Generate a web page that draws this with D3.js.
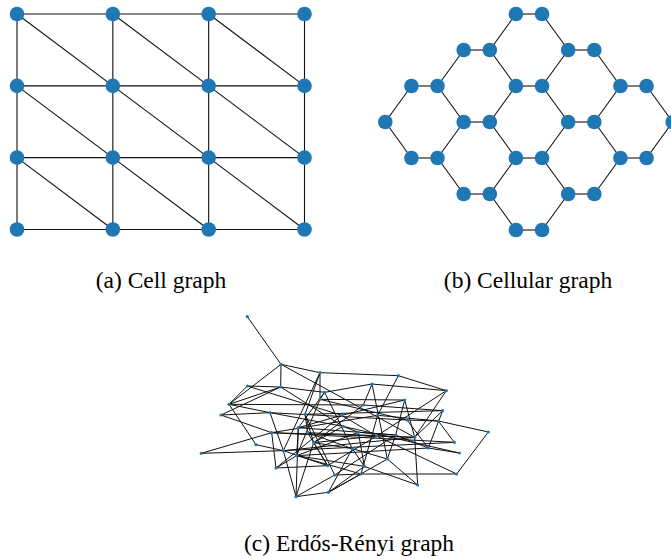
<!DOCTYPE html>
<html>
<head>
<meta charset="utf-8">
<script src="https://cdn.jsdelivr.net/npm/d3@7"></script>
<style>
  html, body { margin: 0; padding: 0; background: #fff; }
  svg { display: block; }
  .cap { font-family: "Liberation Serif", "Times New Roman", serif; font-size: 23.5px; fill: #000; }
</style>
</head>
<body>
<svg id="fig" width="671" height="559"></svg>
<script>
// ---------- (a) Cell graph: 4x4 grid with one diagonal per cell ----------
const cellNodes = [
  [0,0],[1,0],[2,0],[3,0],
  [0,1],[1,1],[2,1],[3,1],
  [0,2],[1,2],[2,2],[3,2],
  [0,3],[1,3],[2,3],[3,3]
];
const cellEdges = [
  [0,1],[1,2],[2,3],[4,5],[5,6],[6,7],[8,9],[9,10],[10,11],[12,13],[13,14],[14,15],
  [0,4],[4,8],[8,12],[1,5],[5,9],[9,13],[2,6],[6,10],[10,14],[3,7],[7,11],[11,15],
  [0,5],[1,6],[2,7],[4,9],[5,10],[6,11],[8,13],[9,14],[10,15]
];

// ---------- (b) Cellular graph: hexagonal lattice (column index, row index) ----------
const hexNodes = [
  [5,0],[6,0],
  [3,1],[4,1],[7,1],[8,1],
  [1,2],[2,2],[5,2],[6,2],[9,2],[10,2],
  [0,3],[3,3],[4,3],[7,3],[8,3],[11,3],
  [1,4],[2,4],[5,4],[6,4],[9,4],[10,4],
  [3,5],[4,5],[7,5],[8,5],
  [5,6],[6,6]
];
const hexEdges = [
  [0,1],[2,3],[4,5],[6,7],[8,9],[10,11],[13,14],[15,16],
  [18,19],[20,21],[22,23],[24,25],[26,27],[28,29],
  [0,3],[1,4],
  [2,7],[3,8],[4,9],[5,10],
  [6,12],[7,13],[8,14],[9,15],[10,16],[11,17],
  [12,18],[13,19],[14,20],[15,21],[16,22],[17,23],
  [19,24],[20,25],[21,26],[22,27],
  [25,28],[26,29]
];

// ---------- (c) Erdős-Rényi graph: layout positions and edge list ----------
const erNodes = [
  [172,20],[273,163],[390,188],[625,197],[172,228],[272,231],[546,222],[769,242],
  [404,247],[390,268],[644,270],[520,285],[117,283],[93,315],[240,308],[345,313],
  [455,316],[563,316],[758,302],[745,333],[651,330],[325,353],[459,349],[353,368],
  [245,368],[505,367],[560,378],[617,375],[674,382],[895,366],[198,404],[371,398],
  [793,397],[34,430],[280,422],[320,437],[487,416],[715,414],[808,429],[592,447],
  [258,474],[413,467],[523,469],[434,495],[513,492],[800,492],[683,525],[318,560],
  [415,547]
];
const erEdges = [
  [0,1],
  [1,2],[1,5],[1,12],[1,28],
  [2,3],[2,15],[2,34],[2,9],
  [3,7],[3,17],
  [4,5],[4,12],[4,16],
  [5,8],[5,12],[5,22],
  [6,7],[6,8],[6,11],[6,39],
  [7,28],[7,26],
  [8,21],[8,36],[8,9],
  [9,10],[9,35],[9,20],
  [10,28],[10,27],[10,16],
  [11,12],[11,18],[11,31],
  [12,30],[12,14],
  [13,14],[13,24],[13,5],
  [14,20],[14,22],[14,34],
  [15,18],[15,23],[15,43],[15,31],
  [16,26],[16,40],[16,21],
  [17,19],[17,24],[17,44],
  [18,28],[18,37],
  [19,32],[19,29],[19,20],
  [20,37],
  [21,27],[21,47],[21,35],
  [22,31],[22,38],[22,25],
  [23,28],[23,41],[23,36],
  [24,33],[24,40],[24,32],[24,28],
  [25,35],[25,42],[25,27],
  [26,31],[26,45],[26,41],
  [27,43],[27,39],[27,37],
  [28,46],[28,34],
  [29,45],
  [30,34],
  [31,36],[31,47],[31,41],
  [32,34],
  [33,34],
  [34,47],[34,41],
  [35,44],[35,42],[35,40],
  [36,48],[36,39],[36,42],
  [37,38],[37,35],
  [39,46],[39,48],
  [40,41],
  [42,46],[42,48],
  [43,47],[43,44],
  [44,45],[44,48],
  [47,48]
];

const captions = ["(a) Cell graph", "(b) Cellular graph", "(c) Erdős-Rényi graph"];

const svg = d3.select("#fig");
const nodeColor = "#1f77b4";

function drawGraph(g, nodes, edges, x, y, r, strokeW) {
  g.selectAll("line.edge").data(edges).join("line")
    .attr("class", "edge")
    .attr("x1", d => x(nodes[d[0]][0])).attr("y1", d => y(nodes[d[0]][1]))
    .attr("x2", d => x(nodes[d[1]][0])).attr("y2", d => y(nodes[d[1]][1]))
    .attr("stroke", "#111").attr("stroke-width", strokeW);
  g.selectAll("circle.node").data(nodes).join("circle")
    .attr("class", "node")
    .attr("cx", d => x(d[0])).attr("cy", d => y(d[1]))
    .attr("r", r).attr("fill", nodeColor);
}

// (a)
const xa = d3.scaleLinear().domain([0, 3]).range([17, 304.5]);
const ya = d3.scaleLinear().domain([0, 3]).range([14, 229.5]);
drawGraph(svg.append("g"), cellNodes, cellEdges, xa, ya, 7.3, 1.1);

// (b)
const xb = d3.scaleLinear().domain([0, 11]).range([385.3, 672.7]);
const yb = d3.scaleLinear().domain([0, 6]).range([14, 230]);
drawGraph(svg.append("g"), hexNodes, hexEdges, xb, yb, 7.3, 1.1);

// (c)
const xc = d3.scaleLinear().domain([0, 960]).range([190, 510]);
const yc = d3.scaleLinear().domain([0, 600]).range([310, 510]);
drawGraph(svg.append("g"), erNodes, erEdges, xc, yc, 1.6, 1.0);

// captions
const capPos = [[161, 288], [528, 288], [349, 551]];
svg.selectAll("text.cap").data(captions).join("text")
  .attr("class", "cap")
  .attr("x", (d, i) => capPos[i][0]).attr("y", (d, i) => capPos[i][1])
  .attr("text-anchor", "middle")
  .text(d => d);
</script>
</body>
</html>
